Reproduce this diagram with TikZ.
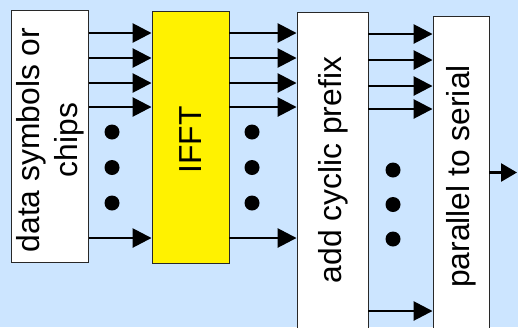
\documentclass[tikz,border=0pt]{standalone}
\usepackage{fontspec}
\setmainfont{Liberation Sans}
\usetikzlibrary{arrows.meta}
\definecolor{bgblue}{RGB}{204,229,255}
\definecolor{boxline}{RGB}{40,40,40}
\begin{document}
\begin{tikzpicture}[x=1pt,y=-1pt,
  blockbox/.style={draw=boxline,line width=0.9pt,fill=white,inner sep=0pt},
  lbl/.style={rotate=90,inner sep=0pt,align=center,font=\fontsize{31.8}{38}\selectfont},
  arr/.style={line width=2.7pt,-{Triangle[length=19pt,width=19pt]}},
  dotc/.style={circle,fill=black,inner sep=0pt,minimum size=15pt}]
\useasboundingbox (0,0) rectangle (518,327);
\fill[bgblue] (0,0) rectangle (518,327);
\clip (0,0) rectangle (518,327);
% boxes
\node[blockbox,minimum width=77pt,minimum height=252pt] (b1) at (50,136) {};
\node[blockbox,fill=yellow,minimum width=77pt,minimum height=252pt] (b2) at (190.5,137) {};
\node[blockbox,minimum width=71pt,minimum height=330pt] (b3) at (332.5,177) {};
\node[blockbox,minimum width=56pt,minimum height=330pt] (b4) at (461,181) {};
% labels
\node[lbl] (t1) at (50,140) {data symbols or\\chips};
\node[lbl] (t2) at (190.5,140) {IFFT};
\node[lbl] (t3) at (333,170) {add cyclic prefix};
\node[lbl] (t4) at (461,176.5) {parallel to serial};
% row coordinates
\coordinate (r1) at (0,33);
\coordinate (r2) at (0,58);
\coordinate (r3) at (0,83);
\coordinate (r4) at (0,107);
\coordinate (r5) at (0,238);
\coordinate (s1) at (0,34);
\coordinate (s2) at (0,60);
\coordinate (s3) at (0,86);
\coordinate (s4) at (0,109);
\coordinate (s5) at (0,311);
\coordinate (outend) at (517,172.5);
% arrows
\foreach \r in {r1,r2,r3,r4,r5}{
  \draw[arr] (b1.east |- \r) -- (b2.west |- \r);
  \draw[arr] (b2.east |- \r) -- (b3.west |- \r);
}
\foreach \r in {s1,s2,s3,s4,s5}{
  \draw[arr] (b3.east |- \r) -- (b4.west |- \r);
}
\draw[line width=2.7pt,-{Triangle[length=16pt,width=18pt]}] (b4.east |- outend) -- (outend);
% dots
\node[dotc] (d11) at (112,132) {};
\node[dotc] (d12) at (112,167.5) {};
\node[dotc] (d13) at (112,203) {};
\node[dotc] (d21) at (252,132) {};
\node[dotc] (d22) at (252,167.5) {};
\node[dotc] (d23) at (252,203) {};
\node[dotc] (d31) at (393,170) {};
\node[dotc] (d32) at (393,204.5) {};
\node[dotc] (d33) at (393,239) {};
\end{tikzpicture}
\end{document}
